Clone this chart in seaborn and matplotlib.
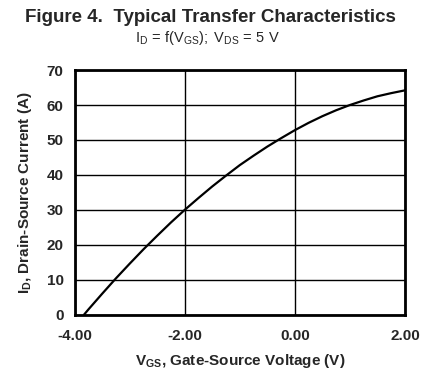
import numpy as np
import pandas as pd
import matplotlib
matplotlib.use("Agg")
import matplotlib.pyplot as plt
import seaborn as sns

# values
vgs = [-3.83, -3.75, -3.5, -3.25, -3.0, -2.75, -2.5, -2.25, -2.0, -1.75, -1.5, -1.25,
       -1.0, -0.75, -0.5, -0.25, 0.0, 0.25, 0.5, 0.75, 1.0, 1.25, 1.5, 1.75, 2.0]
i_d = [0.0, 1.5, 6.0, 10.4, 14.6, 18.7, 22.6, 26.4, 30.0, 33.4, 36.7, 39.8,
       42.8, 45.5, 48.1, 50.5, 52.8, 54.9, 56.8, 58.5, 60.0, 61.3, 62.5, 63.4, 64.2]

x_ticks = [-4.0, -2.0, 0.0, 2.0]
x_ticklabels = ["-4.00", "-2.00", "0.00", "2.00"]
y_ticks = [0, 10, 20, 30, 40, 50, 60, 70]

df = pd.DataFrame({"VGS": vgs, "ID": i_d})

sns.set_style("white")
plt.rcParams['font.family'] = ['Liberation Sans', 'DejaVu Sans']
plt.rcParams['mathtext.fontset'] = 'custom'
plt.rcParams['mathtext.rm'] = 'Liberation Sans'
plt.rcParams['mathtext.it'] = 'Liberation Sans'
plt.rcParams['mathtext.bf'] = 'Liberation Sans:bold'

fig = plt.figure(figsize=(4.34, 3.84), dpi=100)
ax = fig.add_axes([0.172, 0.1805, 0.761, 0.637])

sns.lineplot(data=df, x="VGS", y="ID", color="black", linewidth=1.6, ax=ax)

ax.set_xlim(-4, 2)
ax.set_ylim(0, 70)
ax.set_xticks(x_ticks)
ax.set_xticklabels(x_ticklabels)
ax.set_yticks(y_ticks)
ax.grid(True, color="black", linewidth=1.0)
for s in ax.spines.values():
    s.set_color("black")
    s.set_linewidth(2.0)
    s.set_visible(True)
ax.tick_params(length=0, labelsize=11)
ax.tick_params(axis='x', pad=10)
ax.tick_params(axis='y', pad=8)
for lab in ax.get_xticklabels() + ax.get_yticklabels():
    lab.set_fontweight("bold")

ax.set_xlabel(r"$\mathbf{V_{GS}}$, Gate-Source Voltage (V)", fontsize=11, fontweight="bold", labelpad=7)
ax.set_ylabel(r"$\mathbf{I_D}$, Drain-Source Current (A)", fontsize=11, fontweight="bold", labelpad=9)

fig.text(0.484, 0.955, "Figure 4.  Typical Transfer Characteristics", ha="center", va="center",
         fontsize=13.5, fontweight="bold")
fig.text(0.477, 0.902, r"$\mathregular{I_D\,{=}\,f(V_{GS});\ V_{DS}\,{=}\,5\ V}$", ha="center", va="center",
         fontsize=10.5)

fig.savefig("out.png", dpi=100)
